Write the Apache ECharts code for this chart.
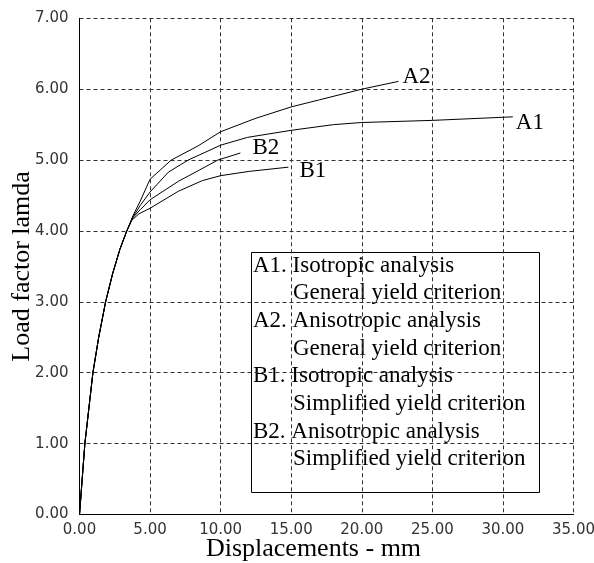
<!DOCTYPE html>
<html>
<head>
<meta charset="utf-8">
<script src="https://cdn.jsdelivr.net/npm/echarts@6/dist/echarts.min.js"></script>
<style>
html,body{margin:0;padding:0;background:#fff;}
#chart{width:594px;height:563px;}
</style>
</head>
<body>
<div id="chart"></div>
<script>
// ---- data (displacement mm, load factor) ----
const start = [[0,0],[0.38,1.0],[0.95,2.0],[1.36,2.5],[1.85,3.0],[2.35,3.4],[2.86,3.74],[3.35,4.0]];
const A1 = start.concat([[3.8,4.2],[4.3,4.36],[5,4.55],[6.3,4.83],[7.7,5.0],[10,5.21],[11.9,5.32],[15,5.42],[18,5.50],[20,5.53],[25,5.56],[30.7,5.61]]);
const A2 = start.concat([[3.8,4.22],[4.3,4.42],[5,4.73],[6.5,5.0],[8.4,5.2],[10,5.40],[12.5,5.59],[15,5.75],[17,5.85],[20,6.0],[22.6,6.11]]);
const B1 = start.concat([[3.7,4.15],[4.2,4.24],[5,4.32],[7,4.56],[8.7,4.71],[10,4.78],[12,4.84],[14.8,4.90]]);
const B2 = start.concat([[3.75,4.18],[4.3,4.3],[5,4.44],[7,4.7],[8.5,4.86],[9.8,5.0],[11.4,5.10]]);
const seriesNames = ['A1','A2','B1','B2'];
const legendLines = [
  'A1. Isotropic analysis',
  'General yield criterion',
  'A2. Anisotropic analysis',
  'General yield criterion',
  'B1. Isotropic analysis',
  'Simplified yield criterion',
  'B2. Anisotropic analysis',
  'Simplified yield criterion'
];
const xTitle = 'Displacements - mm';
const yTitle = 'Load factor lamda';

const SERIF = '"Liberation Serif","Times New Roman",serif';
const chart = echarts.init(document.getElementById('chart'), null, {renderer:'canvas'});

const labelOffsets = {A1:[1,6], A2:[2,-4], B1:[9,4], B2:[10,-5]};
const dataMap = {A1:A1, A2:A2, B1:B1, B2:B2};

const legendGraphics = [{
  type:'rect', shape:{x:251.5, y:252.5, width:288, height:240},
  style:{fill:'#fff', stroke:'#000', lineWidth:1}
}];
legendLines.forEach(function(t,i){
  legendGraphics.push({
    type:'text', x: (i%2===0)?253:293, y: 265.5 + i*27.7,
    style:{text:t, font:'23px '+SERIF, fill:'#000', textVerticalAlign:'middle', textAlign:'left'}
  });
});

chart.setOption({
  animation:false,
  backgroundColor:'#fff',
  grid:{left:79.5, right:20.5, top:18.3, bottom:48.5, containLabel:false, outerBoundsMode:'none'},
  xAxis:{
    type:'value', min:0, max:35, interval:5,
    name:xTitle, nameLocation:'middle', nameGap:22, nameMoveOverlap:false,
    nameTextStyle:{fontFamily:SERIF, fontSize:26, color:'#000', padding:[0,26,0,0]},
    axisLine:{show:true, onZero:false, lineStyle:{color:'#000', width:1}},
    axisTick:{show:false},
    axisLabel:{formatter:function(v){return v.toFixed(2);}, fontFamily:'"DejaVu Sans",sans-serif', fontSize:15, color:'#333', margin:8, hideOverlap:false},
    splitLine:{show:true, lineStyle:{color:'#333', type:[4,3], width:1}}
  },
  yAxis:{
    type:'value', min:0, max:7, interval:1,
    name:yTitle, nameLocation:'middle', nameGap:44, nameMoveOverlap:false,
    nameTextStyle:{fontFamily:SERIF, fontSize:26, color:'#000'},
    axisLine:{show:true, onZero:false, lineStyle:{color:'#000', width:1}},
    axisTick:{show:false},
    axisLabel:{formatter:function(v){return v.toFixed(2);}, fontFamily:'"DejaVu Sans",sans-serif', fontSize:15, color:'#333', margin:11},
    splitLine:{show:true, lineStyle:{color:'#333', type:[4,3], width:1}}
  },
  series: seriesNames.map(function(n){
    return {
      name:n, type:'line', data:dataMap[n], showSymbol:false, symbol:'none',
      lineStyle:{color:'#000', width:1},
      endLabel:{show:true, formatter:n, fontFamily:SERIF, fontSize:23, color:'#000', offset:labelOffsets[n], distance:2},
      z:3
    };
  }),
  graphic: legendGraphics
});
</script>
</body>
</html>
